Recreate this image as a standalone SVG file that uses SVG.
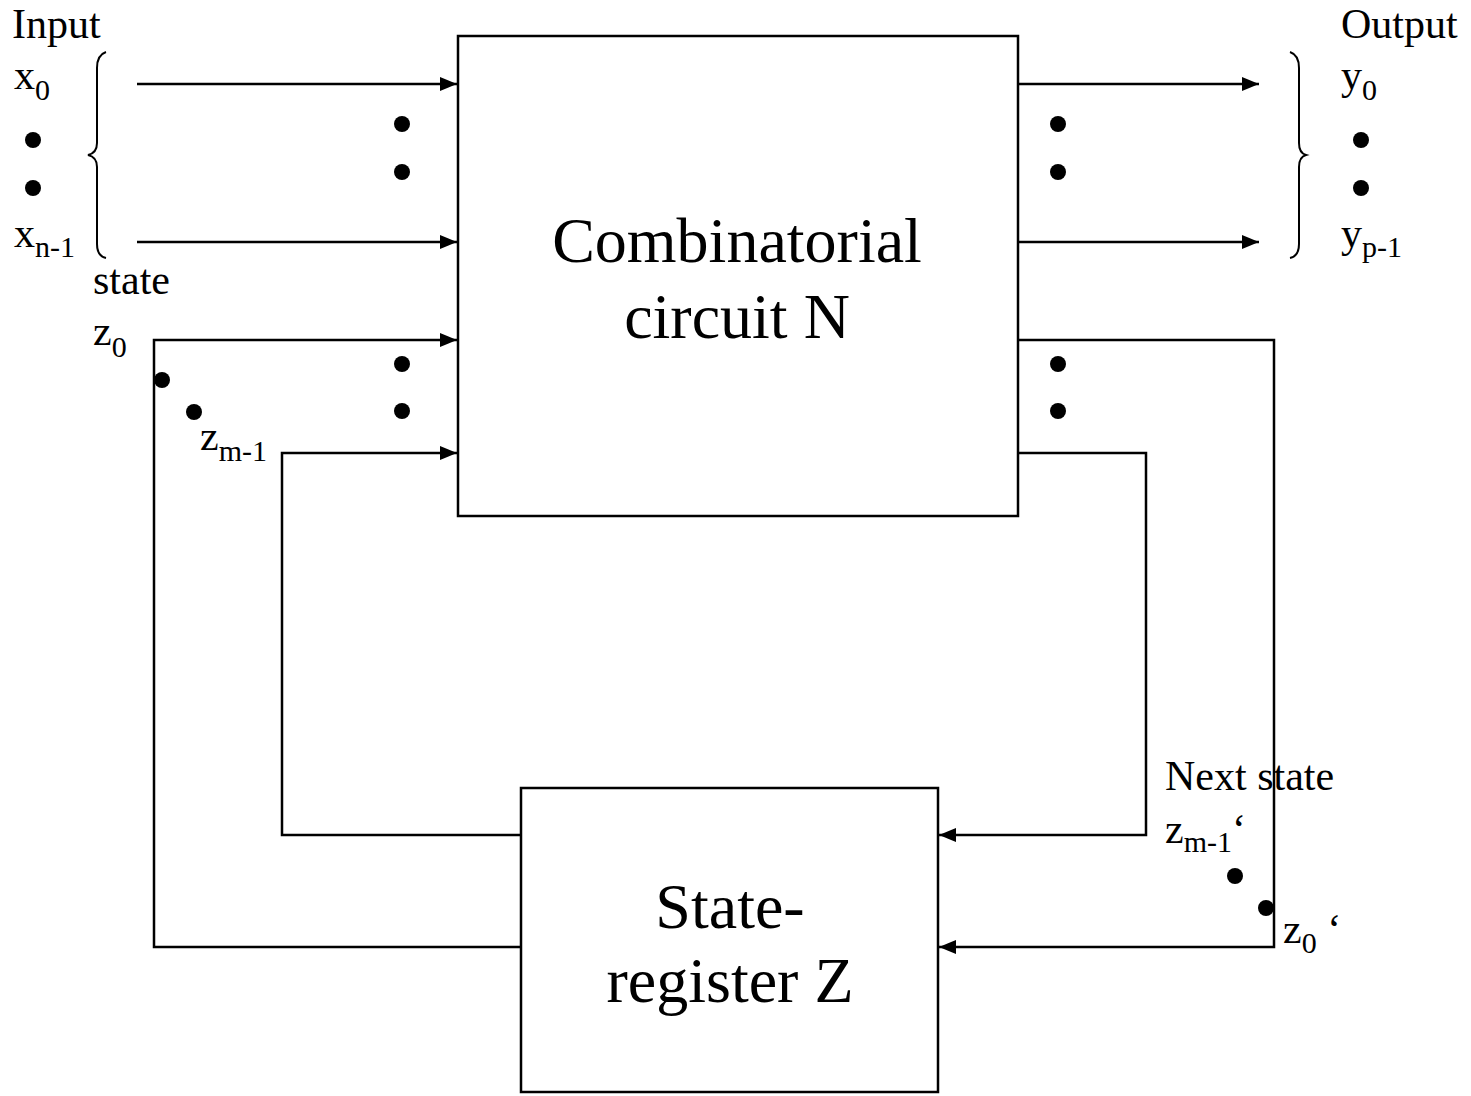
<svg xmlns="http://www.w3.org/2000/svg" width="1471" height="1096" viewBox="0 0 1471 1096">
<style>
.box{fill:#fff;stroke:#000;stroke-width:2.5}
.ln{fill:none;stroke:#000;stroke-width:2.5}
.br{fill:none;stroke:#000;stroke-width:2}
.t{font-family:"Liberation Serif","Times New Roman",serif;font-size:42px;fill:#000}
.s{font-size:30px}
.big{font-family:"Liberation Serif","Times New Roman",serif;font-size:64px;fill:#000;text-anchor:middle}
.dot{fill:#000}
</style>
<defs>
<marker id="ah" markerWidth="17" markerHeight="14" refX="17" refY="7" orient="auto" markerUnits="userSpaceOnUse">
<path d="M0,0 L17,7 L0,14 Z" fill="#000"/>
</marker>
</defs>
<rect width="1471" height="1096" fill="#fff"/>
<g id="connectors">
<line class="ln" x1="137" y1="84" x2="457" y2="84" marker-end="url(#ah)"/>
<line class="ln" x1="137" y1="242" x2="457" y2="242" marker-end="url(#ah)"/>
<line class="ln" x1="1018" y1="84" x2="1259" y2="84" marker-end="url(#ah)"/>
<line class="ln" x1="1018" y1="242" x2="1259" y2="242" marker-end="url(#ah)"/>
<polyline class="ln" points="521,947 154,947 154,340 457,340" marker-end="url(#ah)"/>
<polyline class="ln" points="521,835 282,835 282,453 457,453" marker-end="url(#ah)"/>
<polyline class="ln" points="1018,340 1274,340 1274,947 939,947" marker-end="url(#ah)"/>
<polyline class="ln" points="1018,453 1146,453 1146,835 939,835" marker-end="url(#ah)"/>
</g>
<g id="combinatorial">
<rect class="box" x="458" y="36" width="560" height="480"/>
<text class="big" x="737" y="262">Combinatorial</text>
<text class="big" x="737" y="338">circuit N</text>
</g>
<g id="state-register">
<rect class="box" x="521" y="788" width="417" height="304"/>
<text class="big" x="730" y="928">State-</text>
<text class="big" x="730" y="1002">register Z</text>
</g>
<g id="input">
<text class="t" x="12" y="38">Input</text>
<text class="t" x="14" y="89">x<tspan class="s" dy="11">0</tspan></text>
<circle class="dot" cx="33" cy="140" r="8"/>
<circle class="dot" cx="33" cy="188" r="8"/>
<text class="t" x="14" y="247">x<tspan class="s" dy="10">n-1</tspan></text>
<path class="br" d="M106,52 Q97,55 97,68 L97,143 Q97,153 88,155 Q97,157 97,167 L97,244 Q97,256 106,258"/>
</g>
<g id="output">
<text class="t" x="1341" y="38">Output</text>
<text class="t" x="1341" y="89">y<tspan class="s" dy="11">0</tspan></text>
<circle class="dot" cx="1361" cy="140" r="8"/>
<circle class="dot" cx="1361" cy="188" r="8"/>
<text class="t" x="1341" y="247">y<tspan class="s" dy="10">p-1</tspan></text>
<path class="br" d="M1290,52 Q1299,55 1299,68 L1299,143 Q1299,153 1306,155 Q1299,157 1299,167 L1299,244 Q1299,256 1290,258"/>
</g>
<g id="state-labels">
<text class="t" x="93" y="294">state</text>
<text class="t" x="93" y="345">z<tspan class="s" dy="12">0</tspan></text>
<circle class="dot" cx="162" cy="380" r="8"/>
<circle class="dot" cx="194" cy="412" r="8"/>
<text class="t" x="200" y="450">z<tspan class="s" dy="11">m-1</tspan></text>
</g>
<g id="next-state-labels">
<text class="t" x="1165" y="790">Next state</text>
<text class="t" x="1165" y="843">z<tspan class="s" dy="9">m-1</tspan><tspan dy="-9">‘</tspan></text>
<circle class="dot" cx="1235" cy="876" r="8"/>
<circle class="dot" cx="1266" cy="908" r="8"/>
<text class="t" x="1283" y="943">z<tspan class="s" dy="10">0</tspan><tspan dy="-10"> ‘</tspan></text>
</g>
<g id="dots">
<circle class="dot" cx="402" cy="124" r="8"/>
<circle class="dot" cx="402" cy="172" r="8"/>
<circle class="dot" cx="1058" cy="124" r="8"/>
<circle class="dot" cx="1058" cy="172" r="8"/>
<circle class="dot" cx="402" cy="364" r="8"/>
<circle class="dot" cx="402" cy="411" r="8"/>
<circle class="dot" cx="1058" cy="364" r="8"/>
<circle class="dot" cx="1058" cy="411" r="8"/>
</g>
</svg>
